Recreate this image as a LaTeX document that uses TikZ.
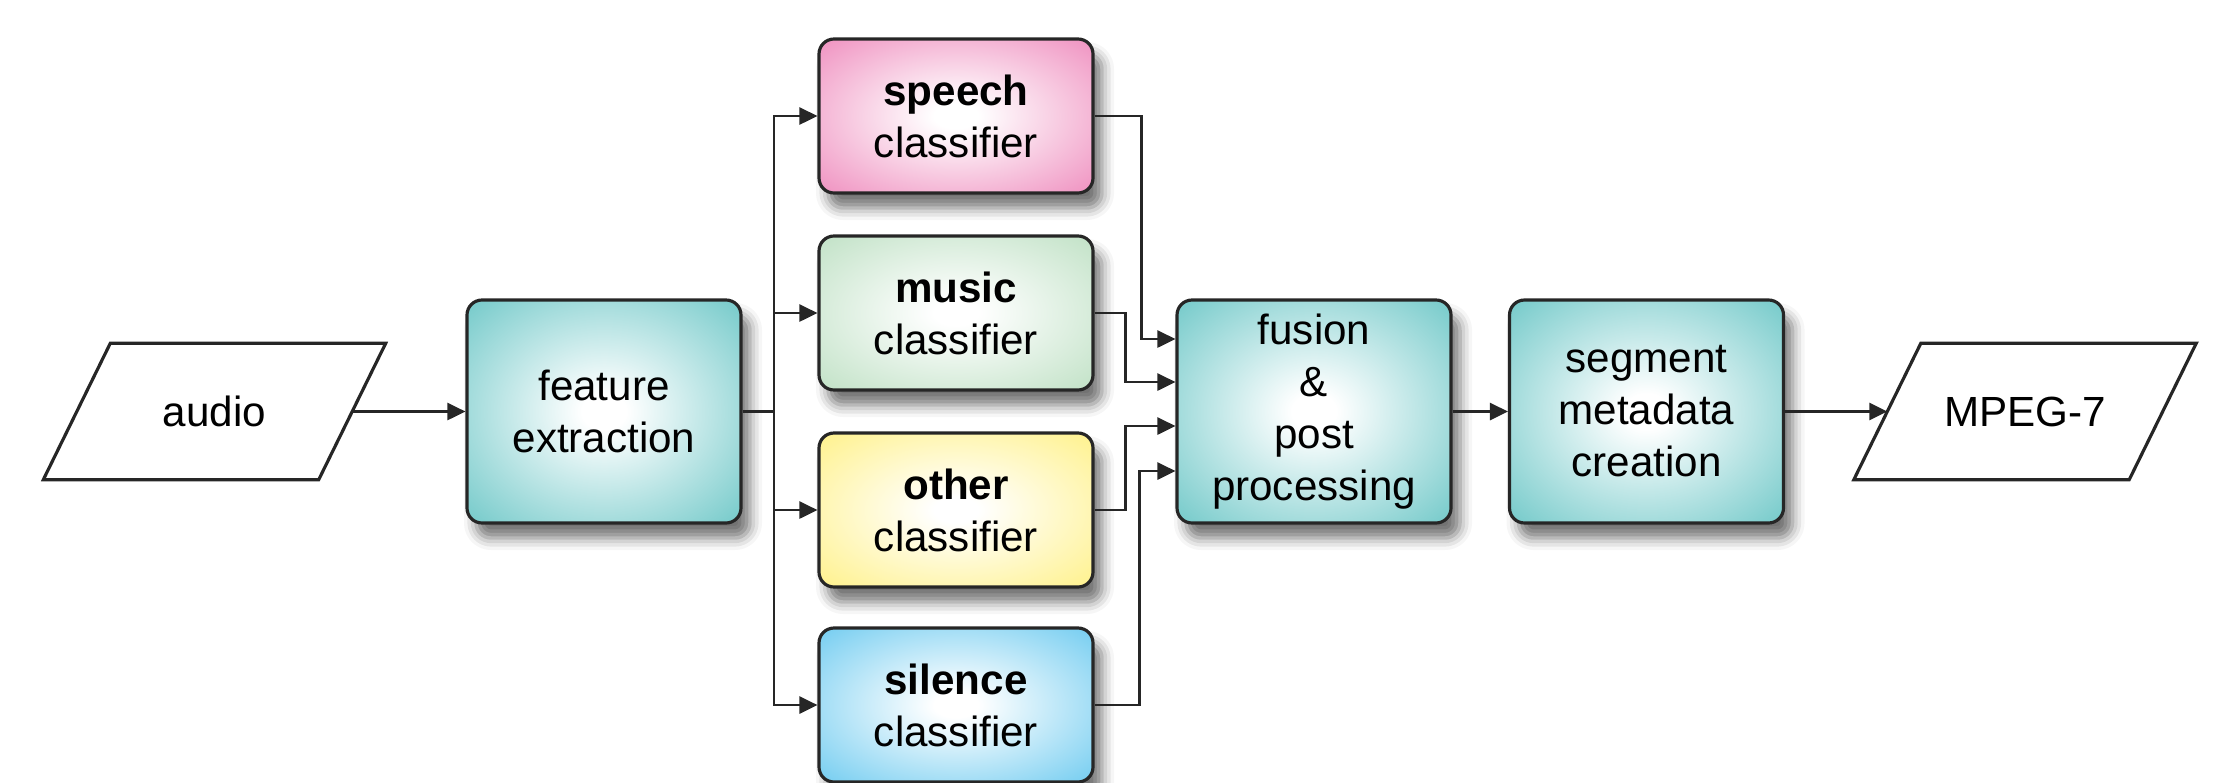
\documentclass[tikz,border=0pt]{standalone}
\usepackage{fontspec}
\setmainfont{Liberation Sans}
\usetikzlibrary{positioning, arrows.meta, shadows.blur}

\definecolor{procteal}{RGB}{122,204,204}
\definecolor{speechpink}{RGB}{240,150,195}
\definecolor{musicgreen}{RGB}{196,227,201}
\definecolor{otheryellow}{RGB}{255,242,145}
\definecolor{silenceblue}{RGB}{122,207,241}
\colorlet{glowcol}{procteal}
\pgfdeclareradialshading[glowcol]{glow}{\pgfpoint{0bp}{0bp}}{color(0bp)=(white); color(4bp)=(white); color(34bp)=(glowcol); color(50bp)=(glowcol)}

\begin{document}
\begin{tikzpicture}[
    >={Triangle[length=1.8mm, width=1.7mm]},
    every node/.style={font=\fontsize{12}{14.8}\selectfont, align=center},
    glowing/.style={/utils/exec={\colorlet{glowcol}{#1}}},
    box/.style={rectangle, rounded corners=1.5mm, draw=black!85, line width=0.9pt, minimum width=2.74cm, inner sep=0pt, glowing=#1, shading=glow, blur shadow={shadow xshift=0.9mm, shadow yshift=-1.5mm, shadow blur radius=1.2mm, shadow opacity=55}},
    proc/.style={box=procteal, minimum height=2.23cm},
    clf/.style={box=#1, minimum height=1.54cm},
    io/.style={rectangle, minimum width=3.41cm, minimum height=1.35cm, inner sep=0pt},
    frame/.style={draw=black!85, line width=0.9pt},
    link/.style={line width=0.8pt, black!85}
  ]
  \useasboundingbox (0,0) rectangle (22.14,-7.82);

  \node[io] (audio) at (2.145, -4.115) {audio};
  \node[proc] (feature) at (6.04, -4.115) {feature\\extraction};
  \node[clf=speechpink] (speech) at (9.56, -1.16) {\textbf{speech}\\classifier};
  \node[clf=musicgreen] (music) at (9.56, -3.13) {\textbf{music}\\classifier};
  \node[clf=otheryellow] (other) at (9.56, -5.10) {\textbf{other}\\classifier};
  \node[clf=silenceblue] (silence) at (9.56, -7.05) {\textbf{silence}\\classifier};
  \node[proc] (fusion) at (13.14, -4.115) {fusion\\\&\\post\\processing};
  \node[proc] (segment) at (16.465, -4.115) {segment\\metadata\\creation};
  \node[io] (mpeg) at (20.25, -4.115) {MPEG-7};

  % slanted frames of the input and output
  \draw[frame] ([xshift=6.7mm]audio.north west) -- (audio.north east) -- ([xshift=-6.7mm]audio.south east) -- (audio.south west) -- cycle;
  \draw[frame] ([xshift=6.7mm]mpeg.north west) -- (mpeg.north east) -- ([xshift=-6.7mm]mpeg.south east) -- (mpeg.south west) -- cycle;

  % split point and inputs of the fusion block
  \coordinate (split) at (7.74, -4.115);
  \coordinate (f1) at ([yshift=7.25mm]fusion.west);
  \coordinate (f2) at ([yshift=2.95mm]fusion.west);
  \coordinate (f3) at ([yshift=-1.45mm]fusion.west);
  \coordinate (f4) at ([yshift=-5.95mm]fusion.west);

  \draw[link, ->] ([xshift=-3.35mm]audio.east) -- (feature);
  \draw[link] (feature) -- (split);
  \draw[link, ->] (split) |- (speech);
  \draw[link, ->] (split) |- (music);
  \draw[link, ->] (split) |- (other);
  \draw[link, ->] (split) |- (silence);

  \draw[link, ->] (speech.east) -| ([xshift=-3.4mm]f1) -- (f1);
  \draw[link, ->] (music.east) -| ([xshift=-5mm]f2) -- (f2);
  \draw[link, ->] (other.east) -| ([xshift=-5mm]f3) -- (f3);
  \draw[link, ->] (silence.east) -| ([xshift=-3.6mm]f4) -- (f4);

  \draw[link, ->] (fusion) -- (segment);
  \draw[link, ->] (segment) -- ([xshift=3.35mm]mpeg.west);
\end{tikzpicture}
\end{document}
